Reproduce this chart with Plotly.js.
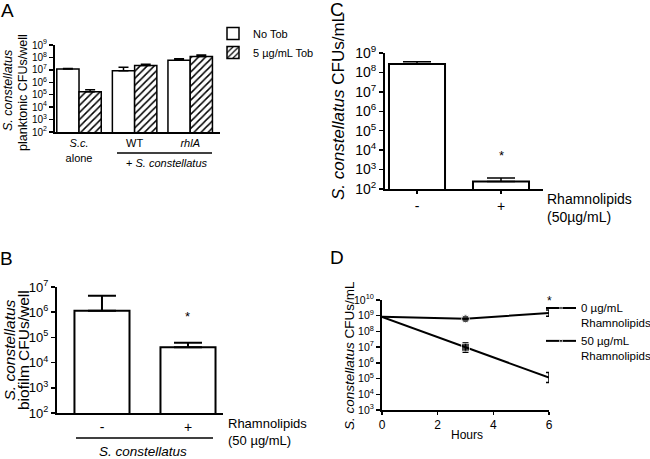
<!DOCTYPE html>
<html>
<head>
<meta charset="utf-8">
<script src="https://cdn.plot.ly/plotly-3.0.1.min.js"></script>
<style>html,body{margin:0;padding:0;background:#fff;}#chart{width:650px;height:459px;}</style>
</head>
<body>
<div id="chart"></div>
<script>
// ---------- data ----------
// Panel A
const catsA = ['S.c. alone', 'WT', 'rhlA'];
const tickTextA = ['<i>S.c.</i><br>alone', 'WT', '<i>rhlA</i>'];
const noTob = [1.17e7, 8.5e6, 5.9e7];
const noTobErr = [1.3e6, 7.5e6, 2.0e7];
const tob5 = [1.7e5, 2.2e7, 1.2e8];
const tob5Err = [8e4, 6e6, 4e7];
const expA = [2, 3, 4, 5, 6, 7, 8, 9];
// Panel B
const catsB = ['-', '+'];
const biofilm = [1.15e6, 4.1e4];
const biofilmErr = [3.35e6, 2.0e4];
const expB = [2, 3, 4, 5, 6, 7];
// Panel C
const catsC = ['-', '+'];
const planktonic = [2.7e8, 2.4e2];
const planktonicErr = [0.8e8, 1.3e2];
const expC = [2, 3, 4, 5, 6, 7, 8, 9];
// Panel D
const hours = [0, 3, 6];
const rh0 = [8.5e8, 6.3e8, 1.5e9];
const rh0ErrPlus = [0, 0, 0.8e9];
const rh0ErrMinus = [0, 0, 0.56e9];
const rh50 = [8.5e8, 9.8e6, 1.15e5];
const rh50ErrPlus = [0, 0.92e7, 1.25e5];
const rh50ErrMinus = [0, 0.5e7, 0.59e5];
const expD = [3, 4, 5, 6, 7, 8, 9, 10];
const hourTicks = [0, 2, 4, 6];

// ---------- helpers ----------
const W = 650, H = 459;
const px = v => v / W;
const py = v => 1 - v / H;
const FONT = 'Liberation Sans, Arial, Helvetica, sans-serif';
const zeros = n => new Array(n).fill(0);
const powText = arr => arr.map(e => '10<sup>' + e + '</sup>');
const tens = arr => arr.map(e => Math.pow(10, e));

const traces = [
  { type: 'bar', name: 'No Tob', x: catsA, y: noTob, xaxis: 'x', yaxis: 'y', legend: 'legend',
    marker: { color: 'white', line: { color: 'black', width: 1.5 } },
    error_y: { type: 'data', symmetric: false, array: noTobErr, arrayminus: zeros(3), color: 'black', thickness: 1.5, width: 5 } },
  { type: 'bar', name: '5 µg/mL Tob', x: catsA, y: tob5, xaxis: 'x', yaxis: 'y', legend: 'legend',
    marker: { color: 'white', line: { color: 'black', width: 1.5 },
      pattern: { shape: '/', fgcolor: 'black', bgcolor: 'white', size: 5, solidity: 0.3 } },
    error_y: { type: 'data', symmetric: false, array: tob5Err, arrayminus: zeros(3), color: 'black', thickness: 1.5, width: 5 } },
  { type: 'bar', name: 'B', x: catsB, y: biofilm, xaxis: 'x2', yaxis: 'y2', width: 0.64, showlegend: false,
    marker: { color: 'white', line: { color: 'black', width: 2 } },
    error_y: { type: 'data', symmetric: false, array: biofilmErr, arrayminus: zeros(2), color: 'black', thickness: 2, width: 14 } },
  { type: 'bar', name: 'C', x: catsC, y: planktonic, xaxis: 'x3', yaxis: 'y3', width: 0.667, showlegend: false,
    marker: { color: 'white', line: { color: 'black', width: 2 } },
    error_y: { type: 'data', symmetric: false, array: planktonicErr, arrayminus: zeros(2), color: 'black', thickness: 1.5, width: 14 } },
  { type: 'scatter', mode: 'lines+markers', name: '0 µg/mL<br>Rhamnolipids', x: hours, y: rh0, xaxis: 'x4', yaxis: 'y4',
    legend: 'legend2', legendgroup: 'g0',
    line: { color: 'black', width: 2 }, marker: { symbol: 'circle', size: [0, 8, 0], color: 'black' },
    error_y: { type: 'data', symmetric: false, array: rh0ErrPlus, arrayminus: rh0ErrMinus, color: 'black', thickness: 1.5, width: 3 } },
  { type: 'scatter', mode: 'lines+markers', name: '50 µg/mL<br>Rhamnolipids', x: hours, y: rh50, xaxis: 'x4', yaxis: 'y4',
    legend: 'legend2', legendgroup: 'g50',
    line: { color: 'black', width: 2 }, marker: { symbol: 'square', size: [0, 8, 0], color: 'black' },
    error_y: { type: 'data', symmetric: false, array: rh50ErrPlus, arrayminus: rh50ErrMinus, color: 'black', thickness: 1.5, width: 3 } }
];

const baseX = { showline: true, linewidth: 2, linecolor: 'black', showgrid: false, zeroline: false, fixedrange: true };
const baseY = { type: 'log', showline: true, linewidth: 2, linecolor: 'black', showgrid: false, zeroline: false,
  ticks: 'outside', ticklen: 4, tickwidth: 1.5, tickcolor: 'black', fixedrange: true };

const ann = (x, y, text, size, opts) => Object.assign({ xref: 'paper', yref: 'paper', x: px(x), y: py(y), text: text,
  showarrow: false, font: { size: size, family: FONT, color: 'black' }, xanchor: 'center', yanchor: 'middle' }, opts || {});

const layout = {
  width: W, height: H,
  margin: { l: 0, r: 0, t: 0, b: 0, pad: 0, autoexpand: false },
  paper_bgcolor: 'white', plot_bgcolor: 'rgba(0,0,0,0)',
  font: { family: FONT, color: 'black' },
  barmode: 'group', bargap: 0.2, bargroupgap: 0,
  showlegend: true,
  xaxis: Object.assign({}, baseX, { domain: [px(55), px(220)], anchor: 'y', type: 'category', range: [-0.432, 2.536],
    tickvals: catsA, ticktext: tickTextA, ticks: '', tickfont: { size: 11 } }),
  yaxis: Object.assign({}, baseY, { domain: [py(132), py(45)], anchor: 'x', range: [2, 9],
    tickvals: tens(expA), ticktext: powText(expA), tickfont: { size: 10 } }),
  xaxis2: Object.assign({}, baseX, { domain: [px(57), px(223)], anchor: 'y2', type: 'category', range: [-0.523, 1.407],
    ticks: '', tickfont: { size: 14 } }),
  yaxis2: Object.assign({}, baseY, { domain: [py(413), py(287)], anchor: 'x2', range: [2, 7],
    tickvals: tens(expB), ticktext: powText(expB), tickfont: { size: 13 } }),
  xaxis3: Object.assign({}, baseX, { domain: [px(385), px(543)], anchor: 'y3', type: 'category', range: [-0.381, 1.5],
    ticks: 'outside', ticklen: 3, tickwidth: 1.5, tickcolor: 'black', tickfont: { size: 14 } }),
  yaxis3: Object.assign({}, baseY, { domain: [py(189), py(53)], anchor: 'x3', range: [2, 9],
    tickvals: tens(expC), ticktext: powText(expC), tickfont: { size: 14 } }),
  xaxis4: Object.assign({}, baseX, { domain: [px(382), px(549)], anchor: 'y4', range: [0, 6],
    tickvals: hourTicks, ticks: 'outside', ticklen: 3, tickwidth: 1.5, tickcolor: 'black', tickfont: { size: 12 } }),
  yaxis4: Object.assign({}, baseY, { domain: [py(410), py(300)], anchor: 'x4', range: [3, 10],
    tickvals: tens(expD), ticktext: powText(expD), tickfont: { size: 10.5 } }),
  legend: { x: px(213), y: py(19), xanchor: 'left', yanchor: 'top', font: { size: 11, family: FONT },
    bgcolor: 'rgba(0,0,0,0)', borderwidth: 0, traceorder: 'normal' },
  legend2: { x: px(541), y: py(294), xanchor: 'left', yanchor: 'top', font: { size: 11.5, family: FONT },
    bgcolor: 'rgba(0,0,0,0)', borderwidth: 0, valign: 'top', tracegroupgap: 3, traceorder: 'normal' },
  shapes: [
    { type: 'line', xref: 'paper', yref: 'paper', x0: px(117), x1: px(212), y0: py(153), y1: py(153), line: { color: 'black', width: 1.5 } },
    { type: 'line', xref: 'paper', yref: 'paper', x0: px(76), x1: px(213), y0: py(438), y1: py(438), line: { color: 'black', width: 1.5 } }
  ],
  annotations: [
    ann(7, 11, 'A', 19), ann(337, 10, 'C', 19), ann(6, 258, 'B', 19), ann(337, 257, 'D', 19),
    // Panel A titles/labels
    ann(8, 91, '<i>S. constellatus</i>', 12.5, { textangle: -90 }),
    ann(23, 93, 'planktonic CFUs/well', 12.5, { textangle: -90 }),
    ann(167, 163, '+ <i>S. constellatus</i>', 11),
    // Panel B
    ann(8.5, 350, '<i>S. constellatus</i>', 15.5, { textangle: -90 }),
    ann(23, 350, 'biofilm CFUs/well', 15.5, { textangle: -90 }),
    ann(143, 451, '<i>S. constellatus</i>', 13.5),
    ann(226, 431.5, 'Rhamnolipids<br>(50 µg/mL)', 13, { xanchor: 'left', align: 'left' }),
    { xref: 'x2', yref: 'y2', x: 1, y: 5.81, text: '*', showarrow: false, font: { size: 13, family: FONT, color: 'black' } },
    // Panel C
    ann(338, 107, '<i>S. constellatus</i> CFUs/mL', 17, { textangle: -90 }),
    ann(545, 208, 'Rhamnolipids<br>(50µg/mL)', 14, { xanchor: 'left', align: 'left' }),
    { xref: 'x3', yref: 'y3', x: 1, y: 3.75, text: '*', showarrow: false, font: { size: 13, family: FONT, color: 'black' } },
    // Panel D
    ann(349, 356, '<i>S. constellatus</i> CFUs/mL', 13.5, { textangle: -90 }),
    ann(467, 435, 'Hours', 12),
    { xref: 'x4', yref: 'y4', x: 6, y: 9.94, text: '*', showarrow: false, font: { size: 12, family: FONT, color: 'black' } }
  ]
};

Plotly.newPlot('chart', traces, layout, { staticPlot: true, displayModeBar: false });
</script>
</body>
</html>
